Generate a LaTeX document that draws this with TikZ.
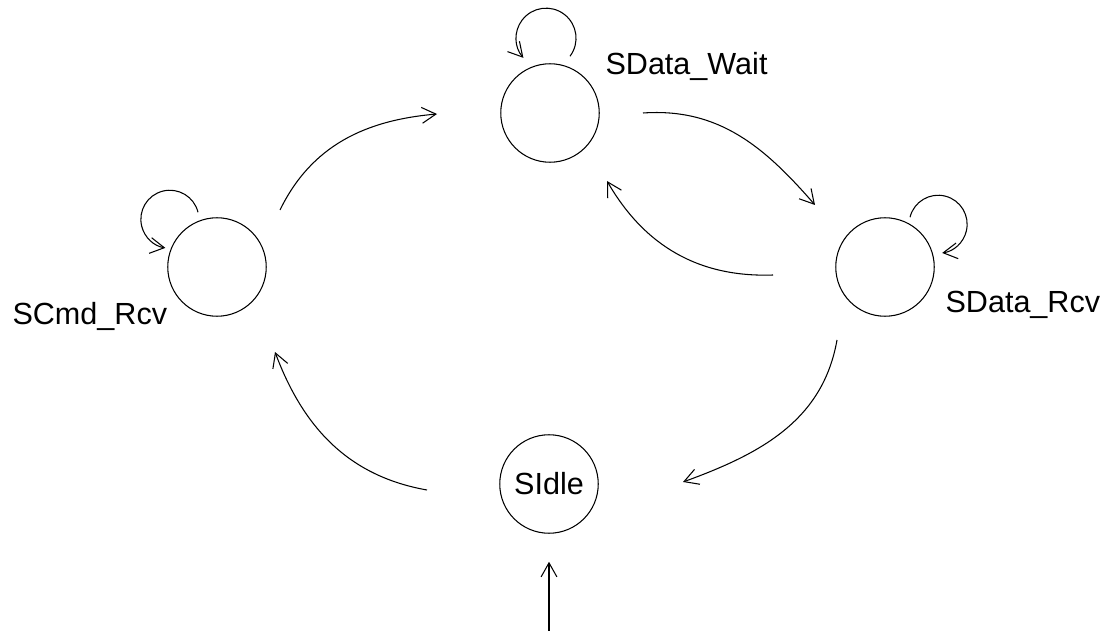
\documentclass[tikz,border=0pt]{standalone}
\usepackage{fontspec}
\setmainfont{Liberation Sans}
\usetikzlibrary{arrows.meta}

\begin{document}
\begin{tikzpicture}[x=0.02cm, y=0.02cm, line width=0.6pt,
  circ/.style={circle, draw, minimum size=1.97cm, inner sep=0pt,
    font=\fontsize{17.4}{20}\selectfont},
  lbl/.style={inner sep=0pt, font=\fontsize{17.4}{20}\selectfont},
  arr/.style={-{Straight Barb[length=8pt,width=9pt]}}]
\useasboundingbox (0,0) rectangle (1115,-631);
% states
\node[circ] (wait) at (550,-113) {};
\node[circ] (cmd) at (217,-267) {};
\node[circ] (rcv) at (885,-267) {};
\node[circ] (idle) at (549,-484) {SIdle};
\node[lbl, anchor=base west] (waitlbl) at (605,-75) {SData\_Wait};
\node[lbl, anchor=base west] (cmdlbl) at (12,-325) {SCmd\_Rcv};
\node[lbl, anchor=base west] (rcvlbl) at (945,-313) {SData\_Rcv};
\coordinate (init) at (549,-631);
% self loops
\draw[arr] (wait.north) ++(20,7) arc[start angle=-37, end angle=221, radius=30];
\draw[arr] (cmd.north) ++(-19,5) arc[start angle=14, end angle=261, radius=29];
\draw[arr] (rcv.north) ++(25,0) arc[start angle=166, end angle=-82, radius=29];
% transitions
\draw[arr] ([shift={(63,57)}]cmd.center) to[out=64,in=185] ([shift={(-113,-1)}]wait.center);
\draw[arr] ([shift={(93,0)}]wait.center) to[out=4,in=131] ([shift={(-70,62)}]rcv.center);
\draw[arr] ([shift={(-112,-8)}]rcv.center) to[out=182,in=-60] ([shift={(57,-68)}]wait.center);
\draw[arr] ([shift={(-48,-73)}]rcv.center) to[out=-100,in=20] ([shift={(134,2)}]idle.center);
\draw[arr] ([shift={(-122,-6)}]idle.center) to[out=170,in=-69.5] ([shift={(58,-85)}]cmd.center);
\draw[arr, shorten >=0.56cm] (init) -- (idle.south);
\end{tikzpicture}
\end{document}
